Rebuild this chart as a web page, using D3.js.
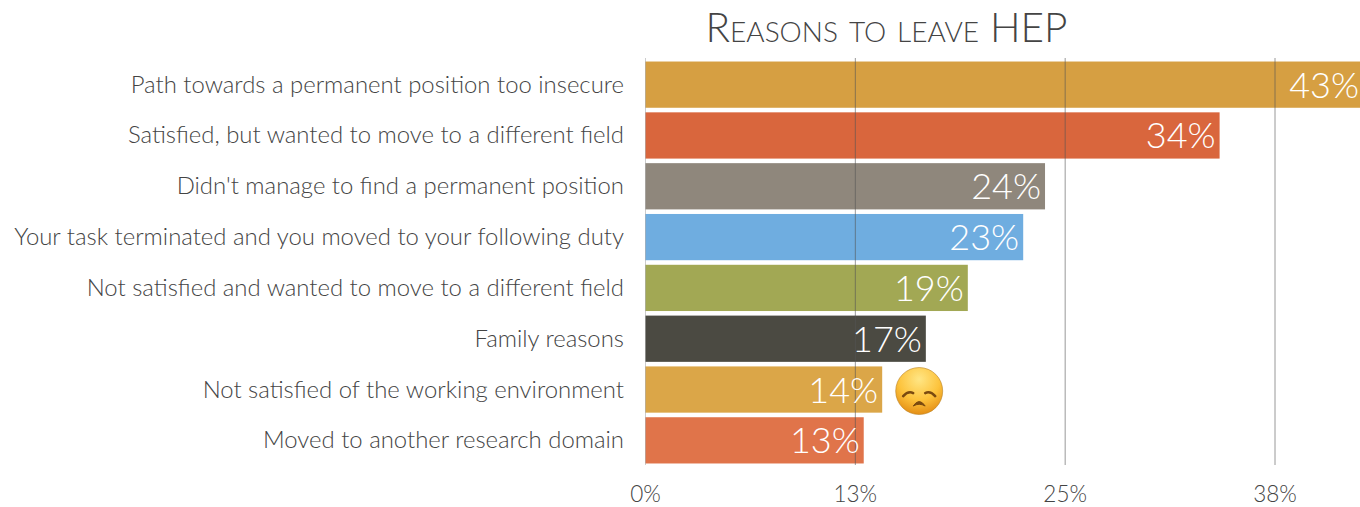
<!DOCTYPE html>
<html><head><meta charset="utf-8">
<script src="https://cdnjs.cloudflare.com/ajax/libs/d3/7.8.5/d3.min.js"></script>
<style>html,body{margin:0;padding:0;background:#fff;overflow:hidden}svg{display:block}text{font-family:Lato,"Open Sans",sans-serif;font-weight:300}</style>
</head><body><svg id="c" width="1360" height="507"></svg>
<script>
const categories=["Path towards a permanent position too insecure","Satisfied, but wanted to move to a different field","Didn't manage to find a permanent position","Your task terminated and you moved to your following duty","Not satisfied and wanted to move to a different field","Family reasons","Not satisfied of the working environment","Moved to another research domain"];
const values=[43.2,34.2,23.8,22.5,19.2,16.7,14.1,13.0];
const valueLabels=["43%","34%","24%","23%","19%","17%","14%","13%"];
const colors=["#d69f42","#d9663d","#8f877c","#6fade0","#a2a854","#4b4a42","#dba648","#e0744a"];
const tickValues=[0,12.5,25,37.5];
const tickLabels=["0%","13%","25%","38%"];
const title="Reasons to leave HEP";
const emojiCategory=categories[6];

const svg=d3.select("#c");
const x=d3.scaleLinear().domain([0,37.5]).range([645.5,1275]);
const y=d3.scaleBand().domain(categories).range([60,465]).paddingInner(0.09).paddingOuter(0.03);

svg.append("text").attr("x",886.5).attr("y",42).attr("text-anchor","middle")
  .attr("font-size",40.5).attr("fill","#444").style("font-variant","small-caps").text(title);

svg.append("g").selectAll("rect").data(categories).join("rect")
  .attr("x",x(0)).attr("y",d=>y(d)).attr("width",(d,i)=>x(values[i])-x(0)).attr("height",y.bandwidth())
  .attr("fill",(d,i)=>colors[i]);

svg.append("g").selectAll("line").data(tickValues).join("line")
  .attr("x1",d=>x(d)).attr("x2",d=>x(d)).attr("y1",58).attr("y2",465)
  .attr("stroke","#555").attr("stroke-opacity",(d,i)=>i?0.6:0.3).attr("stroke-width",1);

svg.append("g").selectAll("text").data(categories).join("text")
  .attr("x",624).attr("y",d=>y(d)+y.bandwidth()/2+8).attr("text-anchor","end")
  .attr("font-size",23.9).attr("fill","#444").text(d=>d);

svg.append("g").selectAll("text").data(categories).join("text")
  .attr("x",(d,i)=>Math.min(x(values[i])-4,1359)).attr("y",d=>y(d)+y.bandwidth()/2+13)
  .attr("text-anchor","end").attr("font-size",36).attr("fill","#fff").text((d,i)=>valueLabels[i]);

svg.append("g").selectAll("text").data(tickValues).join("text")
  .attr("x",d=>x(d)).attr("y",502).attr("text-anchor","middle")
  .attr("font-size",22.5).attr("fill","#444").text((d,i)=>tickLabels[i]);

// sad-face emoji beside the "working environment" bar
const defs=svg.append("defs");
const g=defs.append("radialGradient").attr("id","face").attr("cx","50%").attr("cy","25%").attr("r","80%");
g.append("stop").attr("offset","0%").attr("stop-color","#ffe685");
g.append("stop").attr("offset","55%").attr("stop-color","#fdc33c");
g.append("stop").attr("offset","100%").attr("stop-color","#e0860f");
const ei=categories.indexOf(emojiCategory);
const face=svg.append("g").attr("transform",`translate(${x(values[ei])+37},${y(emojiCategory)+y.bandwidth()/2+1.5})`);
face.append("circle").attr("r",23.5).attr("fill","url(#face)").attr("stroke","#b8801f").attr("stroke-width",.6);
face.append("path").attr("d","M-16,5 Q-11,-0.5 -6,2").attr("fill","none").attr("stroke","#7a4a10").attr("stroke-width",2.6).attr("stroke-linecap","round");
face.append("path").attr("d","M16,5 Q11,-0.5 6,2").attr("fill","none").attr("stroke","#7a4a10").attr("stroke-width",2.6).attr("stroke-linecap","round");
face.append("path").attr("d","M-6,15 Q0,6 6,15 Q0,11.5 -6,15Z").attr("fill","#7a4a10").attr("stroke","#7a4a10").attr("stroke-width",1).attr("stroke-linejoin","round");
</script></body></html>
